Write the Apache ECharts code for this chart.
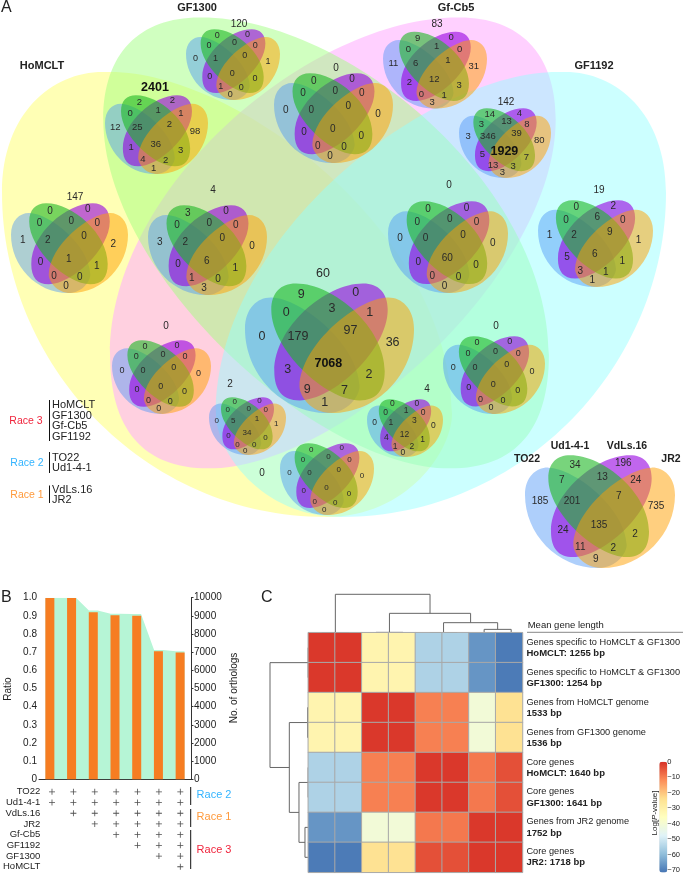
<!DOCTYPE html>
<html><head><meta charset="utf-8">
<style>html,body{margin:0;padding:0;background:#fff}#c{width:683px;height:874px}</style>
<script src="https://cdn.jsdelivr.net/npm/echarts@6/dist/echarts.min.js"></script>
</head><body><div id="c"></div>
<script>
// ---------- DATA: Panel A (order: outer, G, P, BG, GP, PO, B, BGP, GPO, O, ALL, BP, GO, BPO, BGO, BO)
const vennHoMCLT   = [147,0,0,0,0,0,1,2,0,2,1,0,1,0,0,0];
const vennGF1300   = [120,0,0,0,0,0,0,1,0,1,0,0,0,1,0,0];
const vennHoGF1300 = [2401,2,2,0,1,1,12,25,2,98,36,1,3,4,2,1];
const vennHoGFCb   = [4,3,0,0,0,0,3,2,0,0,6,0,1,1,0,3];
const vennGFCb     = [0,0,0,0,0,0,0,0,0,0,0,0,0,0,0,0];
const vennCb5      = [83,9,0,0,1,0,11,6,1,31,12,2,3,0,1,3];
const vennCb1192   = [142,14,4,3,13,8,3,346,39,80,1929,5,7,13,3,3];
const vennGF3      = [0,0,0,0,0,0,0,0,0,0,60,0,0,0,0,0];
const vennGF1192   = [19,0,2,0,6,0,1,2,9,1,6,5,1,3,1,1];
const vennAll      = [60,9,0,0,3,1,0,179,97,36,7068,3,2,9,7,1];
const vennHoCb     = [0,0,0,0,0,0,0,0,0,0,0,0,0,0,0,0];
const vennHoCb1192 = [2,0,0,0,0,0,0,5,1,1,34,0,0,0,0,0];
const vennHo1192   = [0,0,0,0,0,0,0,0,0,0,0,0,0,0,0,0];
const vennGF1300b  = [4,0,0,0,1,0,0,1,3,0,12,4,1,1,2,0];
const vennGF1192b  = [0,0,0,0,0,0,0,0,0,0,0,0,0,0,0,0];
const vennRace     = [null,34,196,7,13,24,185,201,7,735,135,24,2,11,2,9];
const vennValues = [vennHoMCLT,vennGF1300,vennHoGF1300,vennHoGFCb,vennGFCb,vennCb5,vennCb1192,vennGF3,vennGF1192,vennAll,vennHoCb,vennHoCb1192,vennHo1192,vennGF1300b,vennGF1192b,vennRace];

// ---------- DATA: Panel B
const conservedRatio = [0.999,0.998,0.92,0.903,0.9,0.705,0.698];
const areaRatio = [1.0,1.0,0.93,0.912,0.91,0.712,0.705];
const stepNames = ['1','2','3','4','5','6','7'];
const genomes = ['TO22','Ud1-4-1','VdLs.16','JR2','Gf-Cb5','GF1192','GF1300','HoMCLT'];
const firstStepOfGenome = [0,0,1,2,3,4,5,6];

// ---------- DATA: Panel C
const geneSets = ['Genes specific to HoMCLT & GF1300','Genes specific to HoMCLT & GF1300','Genes from HoMCLT genome','Genes from GF1300 genome','Core genes','Core genes','Genes from JR2 genome','Core genes'];
const geneLengths = ['HoMCLT: 1255 bp','GF1300: 1254 bp','1533 bp','1536 bp','HoMCLT: 1640 bp','GF1300: 1641 bp','1752 bp','JR2: 1718 bp'];
const logP = [
 [-1,-1,-31,-31,-54,-54,-65,-69],
 [-1,-1,-31,-31,-54,-54,-65,-69],
 [-31,-31,-1,-1,-10,-10,-40,-24],
 [-31,-31,-1,-1,-10,-10,-40,-24],
 [-54,-54,-10,-10,-1,-1,-9,-4],
 [-54,-54,-10,-10,-1,-1,-9,-4],
 [-65,-65,-40,-40,-9,-9,-1,-1],
 [-69,-69,-24,-24,-4,-4,-1,-1]];
// merges: [pos1, height1, pos2, height2, mergeHeight]
const colMerges = [[0.5,0,1.5,0,0.5],[2.5,0,3.5,0,1],[4.5,0,5.5,0,0.5],[6.5,0,7.5,0,10],[5,0.5,7,10,30],[3,1,6,30,58],[1,0.5,4.5,58,115]];
const rowMerges = [[0.5,0,1.5,0,0.5],[2.5,0,3.5,0,2],[4.5,0,5.5,0,0.5],[6.5,0,7.5,0,10],[5,0.5,7,10,28],[3,2,6,28,57],[1,0.5,4.5,57,115]];

// ---------- LAYOUT
const FONT = '"Liberation Sans", Arial, sans-serif';
// venn box: cx, cy, w, h, font size, outer label x, y
const vennBoxes = [
 [69.5,248,117,90,10,75,197],
 [233,64.5,94,71,9,239,24],
 [156.5,134.5,103,79,9.5,155,88],
 [207.5,250,119,90,10,213,190],
 [333.5,118,119,90,10,336,68],
 [435,70,104,77,9.5,437,24],
 [505,143,92,70,9.5,506,102],
 [448,247,120,92,10,449,185],
 [595.5,243.5,115,87,10,599,190],
 [329.5,348,169,130,12.5,323,274],
 [161.5,377,99,74,9,166,326],
 [247.5,426,77,58,8,230,384],
 [327,479,94,72,8,262,473],
 [405,428,76,58,8.5,427,389],
 [494,375,102,78,9,496,326],
 [600,511.5,150,113,10,0,0]];
const labelOffsets = [[-25,-46.5],[23.3,-48.2],[-38.3,-30.8],[2.3,-34.2],[35.7,-30.8],[-60,-10.2],[-28,-10.2],[18.7,-14.8],[56,-4.8],[-1,13.8],[-37,18.5],[35,22.8],[-19.7,35.8],[13.3,37.2],[-4.3,47.8]];
const blueEgg=[[15,135],[15,80],[50,52],[85,53],[165,55],[316,175],[320,285],[320,310],[290,355],[235,355],[110,355],[15,250],[15,135]];
const blueEggBig=[[15,135],[15,80],[50,52],[85,53],[170,50],[320,160],[320,285],[320,310],[290,355],[235,355],[110,355],[15,250],[15,135]];
const greenEgg=[[85,85],[85,40],[110,16],[150,16],[250,15],[387,130],[387,245],[387,295],[365,322],[320,322],[230,322],[85,190],[85,85]];
const petals = [ // egg, mirrored, small-venn fill, order blue, purple, green, orange
 [blueEgg,false,'rgba(75,149,247,0.45)'],
 [greenEgg,true,'rgba(150,0,225,0.6)'],
 [greenEgg,false,'rgba(30,183,37,0.6)'],
 [blueEgg,true,'rgba(255,160,0,0.5)']];
const bigVenn = [ // egg, mirrored, cx, cy, w, h, fill
 [blueEggBig,false,334,266.5,664,501,'rgba(255,255,0,0.29)'],
 [greenEgg,true,327,266.5,664,501,'rgba(255,174,255,0.58)'],
 [greenEgg,false,332,266.5,664,501,'rgba(159,255,126,0.49)'],
 [blueEggBig,true,334,266.5,664,501,'rgba(146,255,255,0.47)']];
function eggPath(egg,mirror,cx,cy,w,h){
  const P=egg.map(p=>{const x=(p[0]-240)/450*(mirror?-1:1),y=(p[1]-185)/340;return (cx+x*w).toFixed(2)+' '+(cy+y*h).toFixed(2);});
  let d='M'+P[0];
  for(let i=1;i<P.length;i+=3)d+='C'+P[i]+' '+P[i+1]+' '+P[i+2];
  return d+'Z';
}
function renderBig(params,api){
  const b=bigVenn[api.value(0)],c=api.coord([b[2],b[3]]),s=api.size([b[4],b[5]]);
  return {type:'path',shape:{pathData:eggPath(b[0],b[1],c[0],c[1],s[0],s[1])},style:{fill:b[6],stroke:null}};
}
function renderVenn(params,api){
  const i=api.value(0),b=vennBoxes[i],vals=vennValues[i],c=api.coord([b[0],b[1]]),s=api.size([b[2],b[3]]);
  const kids=petals.map(p=>({type:'path',shape:{pathData:eggPath(p[0],p[1],c[0],c[1],s[0],s[1])},style:{fill:p[2],stroke:null}}));
  labelOffsets.forEach((o,k)=>{
    const val=vals[k+1],big=k===9&&val>1000;
    kids.push({type:'text',style:{text:String(val),x:c[0]+o[0]*s[0]/150,y:c[1]+o[1]*s[1]/113,align:'center',verticalAlign:'middle',fill:big?'#111':'#2a2a2a',font:(big?'bold 12.5px ':b[4]+'px ')+FONT}});
  });
  if(vals[0]!==null){
    const t=api.coord([b[5],b[6]]),bold=vals[0]>1000;
    kids.push({type:'text',style:{text:String(vals[0]),x:t[0],y:t[1],align:'center',verticalAlign:'middle',fill:bold?'#111':'#2a2a2a',font:(bold?'bold 12.5px ':Math.max(b[4],10)+'px ')+FONT}});
  }
  return {type:'group',children:kids};
}
function renderDendro(vertical){
  return function(params,api){
    const a=api.value(0),ah=api.value(1),b=api.value(2),bh=api.value(3),H=api.value(4);
    const pt=(pos,h)=>vertical?api.coord([pos,h]):api.coord([h,pos]);
    return {type:'polyline',shape:{points:[pt(a,ah),pt(a,H),pt(b,H),pt(b,bh)]},style:{fill:null,stroke:'#666',lineWidth:1}};
  };
}
// helpers for annotation text / rules
const txt=(text,x,y,size,color,extra)=>({type:'text',x,y,z:20,style:Object.assign({text,fill:color||'#222',font:size+'px '+FONT,align:'left',verticalAlign:'middle'},extra||{})});
const rule=(x1,y1,x2,y2,c,w)=>({type:'line',z:20,shape:{x1,y1,x2,y2},style:{stroke:c||'#111',lineWidth:w||1}});
const graphics=[
 txt('A',1,8,16,'#222'),txt('B',1,598,16,'#222'),txt('C',261,598,16,'#222'),
 txt('HoMCLT',42,66,11,'#222',{font:'bold 11px '+FONT,align:'center'}),
 txt('GF1300',197,8,11,'#222',{font:'bold 11px '+FONT,align:'center'}),
 txt('Gf-Cb5',456,8,11,'#222',{font:'bold 11px '+FONT,align:'center'}),
 txt('GF1192',594,66,11,'#222',{font:'bold 11px '+FONT,align:'center'}),
 txt('TO22',527,459,10.5,'#222',{font:'bold 10.5px '+FONT,align:'center'}),
 txt('Ud1-4-1',570,446,10.5,'#222',{font:'bold 10.5px '+FONT,align:'center'}),
 txt('VdLs.16',627,446,10.5,'#222',{font:'bold 10.5px '+FONT,align:'center'}),
 txt('JR2',671,459,10.5,'#222',{font:'bold 10.5px '+FONT,align:'center'}),
 txt('Race 3',26,421,10.5,'#f0243c',{align:'center'}),txt('Race 2',27,463,10.5,'#33b4ff',{align:'center'}),txt('Race 1',27,495,10.5,'#ff9a3c',{align:'center'}),
 rule(49.5,400,49.5,441),rule(49.5,452,49.5,473),rule(49.5,485.5,49.5,503),
 txt('HoMCLT',52,405,11),txt('GF1300',52,415.7,11),txt('Gf-Cb5',52,426,11),txt('GF1192',52,437,11),
 txt('TO22',52,457.7,11),txt('Ud1-4-1',52,468,11),txt('VdLs.16',52,490,11),txt('JR2',52,500,11),
 rule(190.7,787,190.7,805),rule(190.7,809,190.7,827),rule(190.7,830,190.7,869),
 txt('Race 2',214,795,11,'#33b4ff',{align:'center'}),txt('Race 1',214,817,11,'#ff9a3c',{align:'center'}),txt('Race 3',214,850,11,'#f0243c',{align:'center'}),
 {type:'text',z:20,x:8,y:689,rotation:Math.PI/2,style:{text:'Ratio',fill:'#222',font:'10px '+FONT,align:'center',verticalAlign:'middle'}},
 {type:'text',z:20,x:234,y:688,rotation:Math.PI/2,style:{text:'No. of orthologs',fill:'#222',font:'10px '+FONT,align:'center',verticalAlign:'middle'}},
 txt('Mean gene length',527.7,625,9.5),rule(527,632.3,683,632.3,'#888',1),
 {type:'text',z:20,x:655,y:813,rotation:Math.PI/2,style:{text:'{a|Log[}{b|P}{a|-value]}',align:'center',verticalAlign:'middle',rich:{a:{font:'8px '+FONT,fill:'#222'},b:{font:'italic 8px '+FONT,fill:'#222'}}}}
];
const steps=7;
const plusData=[];
firstStepOfGenome.forEach((f,r)=>{for(let c=f;c<steps;c++)plusData.push([c,r]);});
const heatData=[];
logP.forEach((row,r)=>row.forEach((v,c)=>heatData.push([c,r,v])));
const areaData=[];
areaRatio.forEach((v,i)=>{areaData.push([i+0.3,v]);areaData.push([i+0.7,v]);});
const hiddenVal=(o)=>Object.assign({type:'value',show:false,scale:false},o);

const chart=echarts.init(document.getElementById('c'),null,{renderer:'canvas',width:683,height:874});
chart.setOption({
 animation:false,backgroundColor:'#fff',
 textStyle:{fontFamily:FONT},
 graphic:graphics,
 grid:[
  {left:0,top:0,width:683,height:874},
  {left:39,top:597.7,width:152,height:181.6},
  {left:39,top:786.5,width:152,height:85.6},
  {left:308.3,top:632.7,width:216.4,height:239.6},
  {left:308.3,top:594.3,width:216.4,height:38.4},
  {left:270,top:632.7,width:38.3,height:239.6},
  {left:659.3,top:761.7,width:8,height:110.8}],
 xAxis:[
  hiddenVal({gridIndex:0,min:0,max:683}),
  {gridIndex:1,type:'category',data:stepNames,axisLine:{lineStyle:{color:'#333'}},axisTick:{length:2.5,lineStyle:{color:'#333'}},axisLabel:{show:false}},
  hiddenVal({gridIndex:1,min:0,max:7}),
  {gridIndex:2,type:'category',data:stepNames,show:false},
  {gridIndex:3,type:'category',data:logP[0].map((_,i)=>String(i)),show:false},
  hiddenVal({gridIndex:4,min:0,max:8}),
  hiddenVal({gridIndex:5,min:0,max:115,inverse:true}),
  hiddenVal({gridIndex:6,min:0,max:1})],
 yAxis:[
  hiddenVal({gridIndex:0,min:0,max:874,inverse:true}),
  {gridIndex:1,type:'value',min:0,max:1,interval:0.1,position:'left',splitLine:{show:false},axisLine:{show:false},axisTick:{show:false},axisLabel:{margin:2,fontSize:10,color:'#222',formatter:v=>v===0?'0':v.toFixed(1)}},
  {gridIndex:1,type:'value',min:0,max:10000,interval:1000,position:'right',splitLine:{show:false},axisLine:{show:true,lineStyle:{color:'#333'}},axisTick:{show:true,length:2.5,lineStyle:{color:'#333'}},axisLabel:{margin:3,fontSize:10,color:'#222',formatter:v=>String(v)}},
  {gridIndex:2,type:'category',inverse:true,data:genomes,axisLine:{show:false},axisTick:{show:false},axisLabel:{margin:1,interval:0,fontSize:9.5,color:'#222'}},
  {gridIndex:3,type:'category',inverse:true,position:'right',data:geneLengths,axisLine:{show:false},axisTick:{show:false},
   axisLabel:{margin:4,interval:0,align:'left',formatter:(v,i)=>'{a|'+geneSets[i]+'}\n{b|'+v+'}',rich:{a:{fontSize:9.2,color:'#222',lineHeight:11},b:{fontSize:9.5,fontWeight:'bold',color:'#222',lineHeight:11}}}},
  hiddenVal({gridIndex:4,min:0,max:115}),
  hiddenVal({gridIndex:5,min:0,max:8,inverse:true}),
  {gridIndex:6,type:'value',min:-70,max:0,interval:10,position:'right',splitLine:{show:false},axisLine:{show:false},axisTick:{show:false},axisLabel:{margin:2,fontSize:7.5,color:'#222',formatter:v=>String(v).replace('-','\u2212')}}],
 visualMap:{type:'continuous',seriesIndex:7,min:-70,max:0,left:659.3,top:761.7,itemWidth:8,itemHeight:110.8,padding:0,calculable:false,text:null,showLabel:false,
   inRange:{color:['#4575B4','#91BFDB','#E0F3F8','#FFFFBF','#FEE090','#FC8D59','#D73027']}},
 series:[
  {type:'custom',xAxisIndex:0,yAxisIndex:0,silent:true,clip:false,z:1,data:bigVenn.map((_,i)=>[i]),renderItem:renderBig},
  {type:'custom',xAxisIndex:0,yAxisIndex:0,silent:true,clip:false,z:2,data:vennBoxes.map((_,i)=>[i]),renderItem:renderVenn},
  {type:'line',xAxisIndex:2,yAxisIndex:1,data:areaData,symbol:'none',lineStyle:{width:0},areaStyle:{color:'#b6f5d6',opacity:1},z:1},
  {type:'bar',xAxisIndex:1,yAxisIndex:1,data:conservedRatio,barWidth:9,itemStyle:{color:'#f67d22'},z:2},
  {type:'scatter',xAxisIndex:3,yAxisIndex:3,data:plusData,symbol:'path://M0 2.6H6V3.4H0ZM2.6 0H3.4V6H2.6Z',symbolSize:6,itemStyle:{color:'#222'}},
  {type:'custom',xAxisIndex:5,yAxisIndex:5,silent:true,clip:false,data:colMerges,renderItem:renderDendro(true)},
  {type:'custom',xAxisIndex:6,yAxisIndex:6,silent:true,clip:false,data:rowMerges,renderItem:renderDendro(false)},
  {type:'heatmap',xAxisIndex:4,yAxisIndex:4,data:heatData,itemStyle:{borderColor:'#a8a8a8',borderWidth:1},emphasis:{disabled:true}}
 ]
});
</script></body></html>
